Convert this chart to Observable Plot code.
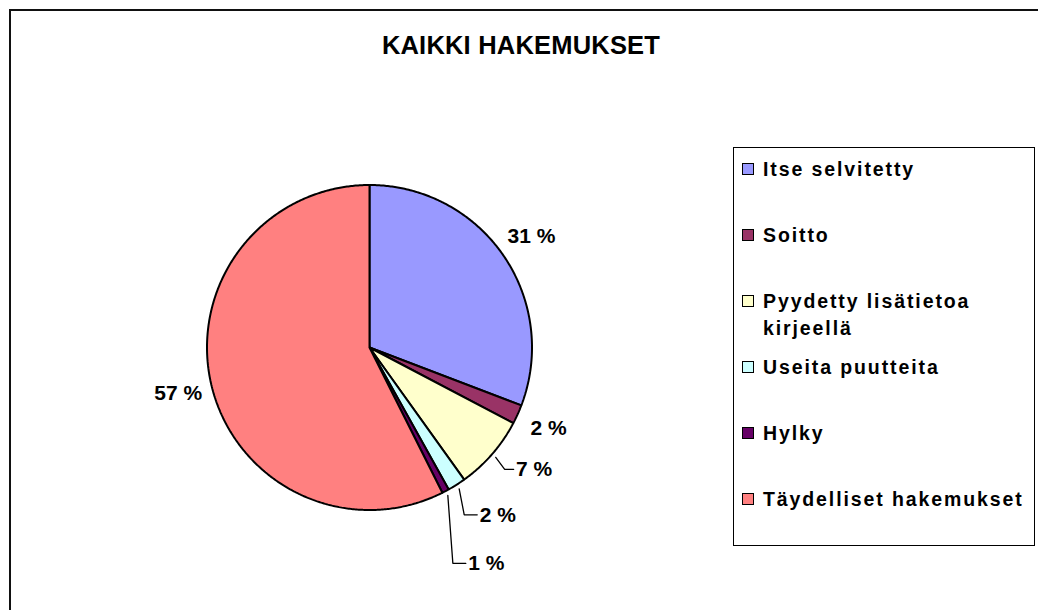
<!DOCTYPE html>
<html>
<head>
<meta charset="utf-8">
<script src="https://cdn.jsdelivr.net/npm/d3@7"></script>
<script src="https://cdn.jsdelivr.net/npm/@observablehq/plot@0.6"></script>
<style>
  body { margin: 0; background: #fff; }
  #wrap { position: relative; width: 1038px; height: 610px; overflow: hidden; background: #fff;
          font-family: "Liberation Sans", Arial, sans-serif; }
  #frame { position: absolute; left: 9px; top: 9px; width: 1060px; height: 700px; border: 2px solid #111; box-sizing: border-box; }
  #chart { position: absolute; left: 0; top: 0; }
  #title { position: absolute; left: 0; top: 33px; width: 1042px; text-align: center; font-weight: bold;
           font-size: 25.5px; line-height: 25px; letter-spacing: 0.2px; color: #000; }
  #legend { position: absolute; left: 733px; top: 147px; width: 302px; height: 399px; border: 1px solid #000;
            box-sizing: border-box; background: #fff; }
  .item { position: absolute; left: 8px; display: flex; align-items: flex-start; }
  .sw { width: 10px; height: 10px; border: 1px solid #000; margin-top: 7.5px; flex: none; }
  .lt { margin-left: 9px; width: 272px; font-weight: bold; font-size: 19.5px; line-height: 27px; letter-spacing: 1.9px; color: #000; }
</style>
</head>
<body>
<div id="wrap">
  <div id="frame"></div>
  <div id="chart"></div>
  <div id="title"></div>
  <div id="legend"></div>
</div>
<script>
// ---- data ----
const chartTitle = "KAIKKI HAKEMUKSET";
const categories = ["Itse selvitetty", "Soitto", "Pyydetty lisätietoa kirjeellä", "Useita puutteita", "Hylky", "Täydelliset hakemukset"];
const values = [30.8, 1.9, 7.4, 1.8, 0.7, 57.4];
const valueLabels = ["31 %", "2 %", "7 %", "2 %", "1 %", "57 %"];
const colors = ["#9999FF", "#993366", "#FFFFCC", "#CCFFFF", "#660066", "#FF8080"];

// ---- layout ----
const W = 1038, H = 610;
const R = 162.5, cx = 369, cy = 347;       // pie centre / radius in pixels
const labelRadius = 1.21;                    // radii units
const leaderStart = 1.03;
const leaderLayout = {
  2: {dx: 0.055, dy: -0.074, h: 0.055},
  3: {dx: 0.031, dy: -0.16, h: 0.08},
  4: {dx: 0.031, dy: -0.418, h: 0.08}
};
const textGap = 0.015;

const arcs = d3.pie().sort(null).value(d => d)(values);

const slices = arcs.map((a, i) => {
  const pts = [{x: 0, y: 0}];
  const n = Math.max(2, Math.ceil((a.endAngle - a.startAngle) / (Math.PI / 360)));
  for (let k = 0; k <= n; k++) {
    const t = a.startAngle + (a.endAngle - a.startAngle) * k / n;
    pts.push({x: Math.sin(t), y: Math.cos(t)});
  }
  pts.push({x: 0, y: 0});
  return {pts, color: colors[i]};
});

const plainLabels = [];
const leaderLabels = [];
const leaderLines = [];
arcs.forEach((a, i) => {
  const m = (a.startAngle + a.endAngle) / 2;
  const lay = leaderLayout[i];
  if (!lay) {
    plainLabels.push({x: labelRadius * Math.sin(m), y: labelRadius * Math.cos(m), text: valueLabels[i]});
  } else {
    const s = {x: leaderStart * Math.sin(m), y: leaderStart * Math.cos(m)};
    const e = {x: s.x + lay.dx, y: s.y + lay.dy};
    const f = {x: e.x + lay.h, y: e.y};
    leaderLines.push({...s, k: i}, {...e, k: i}, {...f, k: i});
    leaderLabels.push({x: f.x + textGap, y: f.y, text: valueLabels[i]});
  }
});

const font = "'Liberation Sans', Arial, sans-serif";

const plot = Plot.plot({
  width: W, height: H,
  margin: 0,
  x: {domain: [-cx / R, (W - cx) / R], axis: null},
  y: {domain: [-(H - cy) / R, cy / R], axis: null},
  style: {background: "transparent", overflow: "visible"},
  marks: [
    ...slices.map(s => Plot.line(s.pts, {x: "x", y: "y", fill: s.color, stroke: "#000", strokeWidth: 2, strokeLinejoin: "miter", curve: "linear"})),
    Plot.line(leaderLines, {x: "x", y: "y", z: "k", stroke: "#000", strokeWidth: 1.3, curve: "linear", strokeLinejoin: "miter"}),
    Plot.text(plainLabels, {x: "x", y: "y", text: "text", textAnchor: "middle", lineAnchor: "middle", fontSize: 21, fontWeight: "bold", fontFamily: font, fill: "#000"}),
    Plot.text(leaderLabels, {x: "x", y: "y", text: "text", textAnchor: "start", lineAnchor: "middle", fontSize: 21, fontWeight: "bold", fontFamily: font, fill: "#000"})
  ]
});
document.getElementById("chart").appendChild(plot);

document.getElementById("title").textContent = chartTitle;

const legend = document.getElementById("legend");
categories.forEach((c, i) => {
  const item = document.createElement("div");
  item.className = "item";
  item.style.top = (169 + 66 * i - 13.5 - 148) + "px";
  const sw = document.createElement("div");
  sw.className = "sw";
  sw.style.background = colors[i];
  const t = document.createElement("div");
  t.className = "lt";
  t.textContent = c;
  item.appendChild(sw);
  item.appendChild(t);
  legend.appendChild(item);
});
</script>
</body>
</html>
